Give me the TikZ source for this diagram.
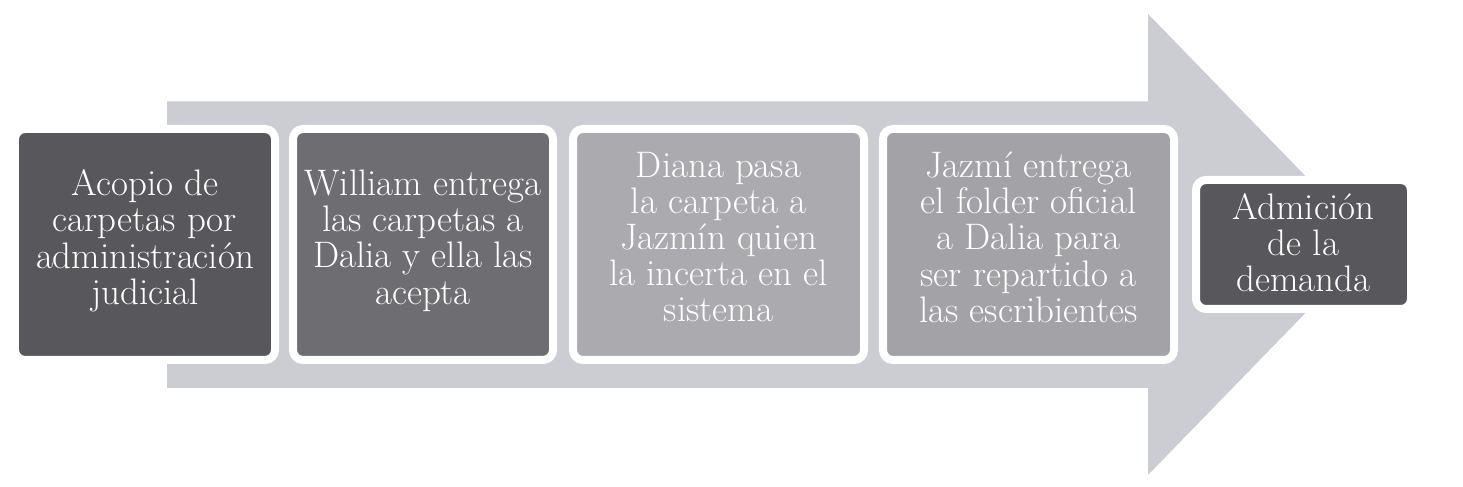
\documentclass[tikz,border=0pt]{standalone}
\usepackage{tikz}
\usetikzlibrary{positioning}
\usetikzlibrary{calc}

\definecolor{flowgray}{RGB}{204,205,210}
\definecolor{stepdark}{RGB}{88,88,92}
\definecolor{stepmid}{RGB}{110,109,114}
\definecolor{steplight}{RGB}{171,170,175}
\definecolor{steppale}{RGB}{163,162,167}

\begin{document}
\begin{tikzpicture}[
  font=\fontsize{21}{20.6}\selectfont,
  stepbox/.style={draw=white, line width=0.16cm, rounded corners=0.2cm, outer sep=0pt, inner sep=0pt,
    align=center, text=white, text depth=0.3cm, minimum width=5.2cm, minimum height=4.62cm},
  widebox/.style={stepbox, minimum width=5.82cm},
  endbox/.style={stepbox, text depth=0.08cm, minimum width=4.3cm, minimum height=2.58cm}
]
\useasboundingbox (0,0) rectangle (29.26,9.74);

% Background arrow
\fill[flowgray] (3.34,7.71) -- (22.96,7.71) -- (22.96,9.46) -- (27.44,4.85)
  -- (22.96,0.24) -- (22.96,1.98) -- (3.34,1.98) -- cycle;

% Nodes (steps)
\node[stepbox, fill=stepdark] (acopio) at (2.90,4.85) {Acopio de\\carpetas por\\administración\\judicial};
\node[stepbox, fill=stepmid, right=0.36cm of acopio] (entrega) {William entrega\\las carpetas a\\Dalia y ella las\\acepta};
\node[widebox, fill=steplight, right=0.40cm of entrega] (sistema) {Diana pasa\\la carpeta a\\Jazmín quien\\la incerta en el\\sistema};
\node[widebox, fill=steppale, right=0.38cm of sistema] (folder) {Jazmí entrega\\el folder oficial\\a Dalia para\\ser repartido a\\las escribientes};

% Final step
\node[endbox, fill=stepdark, right=0.44cm of folder] (admision) {Admición\\de la\\demanda};

\end{tikzpicture}
\end{document}
